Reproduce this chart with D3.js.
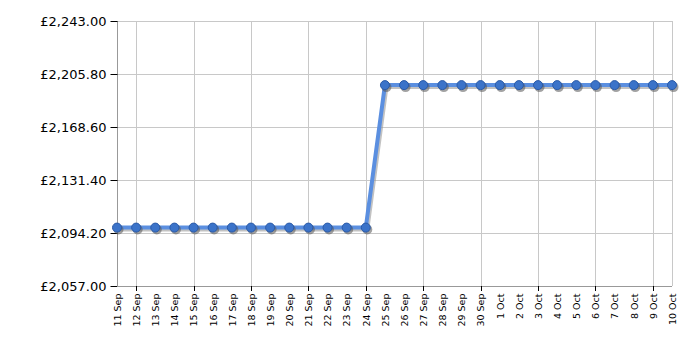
<!DOCTYPE html>
<html>
<head>
<meta charset="utf-8">
<script src="https://cdn.jsdelivr.net/npm/d3@7"></script>
<style>
  body { margin: 0; background: #fff; }
  svg text { font-family: "DejaVu Sans", Verdana, sans-serif; fill: #000; }
</style>
</head>
<body>
<svg id="chart" width="700" height="350"></svg>
<script>
// days shown on the x axis
var dates = ["11 Sep","12 Sep","13 Sep","14 Sep","15 Sep","16 Sep","17 Sep","18 Sep","19 Sep","20 Sep",
  "21 Sep","22 Sep","23 Sep","24 Sep","25 Sep","26 Sep","27 Sep","28 Sep","29 Sep","30 Sep",
  "1 Oct","2 Oct","3 Oct","4 Oct","5 Oct","6 Oct","7 Oct","8 Oct","9 Oct","10 Oct"];
// price per day
var prices = [2098,2098,2098,2098,2098,2098,2098,2098,2098,2098,
  2098,2098,2098,2098,2198,2198,2198,2198,2198,2198,
  2198,2198,2198,2198,2198,2198,2198,2198,2198,2198];
var yTicks = [2057, 2094.2, 2131.4, 2168.6, 2205.8, 2243];
// every third day gets a grid line, starting from 12 Sep
var gridDays = ["12 Sep","15 Sep","18 Sep","21 Sep","24 Sep","27 Sep","30 Sep","3 Oct","6 Oct","9 Oct"];

// note: "top" is taken by window.top, so use other names
var plotLeft = 117, plotRight = 672, plotTop = 21, plotBottom = 286;
var svg = d3.select("#chart");

var x = d3.scalePoint().domain(dates).range([plotLeft, plotRight]);
var y = d3.scaleLinear().domain([2057, 2243]).range([plotBottom, plotTop]);
var fmt = function(v){ return "£" + d3.format(",.2f")(v); };

// horizontal grid
svg.append("g").selectAll("line").data(yTicks).enter().append("line")
  .attr("x1", plotLeft).attr("x2", plotRight)
  .attr("y1", function(d){ return Math.round(y(d)) + 0.5; })
  .attr("y2", function(d){ return Math.round(y(d)) + 0.5; })
  .attr("stroke", "#c8c8c8");
// vertical grid
svg.append("g").selectAll("line").data(gridDays.concat(["10 Oct"])).enter().append("line")
  .attr("x1", function(d){ return Math.round(x(d)) + 0.5; })
  .attr("x2", function(d){ return Math.round(x(d)) + 0.5; })
  .attr("y1", plotTop).attr("y2", plotBottom)
  .attr("stroke", "#c8c8c8");

// y axis
var yAxis = svg.append("g")
  .attr("transform", "translate(" + (plotLeft + 0.5) + ",0)")
  .call(d3.axisLeft(y).tickValues(yTicks).tickFormat(fmt).tickSize(7).tickPadding(4));
yAxis.select(".domain").attr("stroke", "#999").attr("d", "M0," + plotTop + "V" + plotBottom);
yAxis.selectAll(".tick line").attr("stroke", "#000");
yAxis.selectAll("text").style("font-size", "13px");

// x axis
var xAxis = svg.append("g")
  .attr("transform", "translate(0," + (plotBottom + 0.5) + ")")
  .call(d3.axisBottom(x).tickSize(0).tickPadding(0));
xAxis.select(".domain").attr("stroke", "#999").attr("d", "M" + plotLeft + ",0H" + plotRight);
xAxis.selectAll(".tick text")
  .style("font-size", "9.5px")
  .attr("text-anchor", "end")
  .attr("dy", "0.35em")
  .attr("transform", "translate(0,7) rotate(-90)")
  .attr("x", 0).attr("y", 0);
// short tick marks on grid days only
svg.append("g").selectAll("line").data(gridDays).enter().append("line")
  .attr("x1", function(d){ return Math.round(x(d)) + 0.5; })
  .attr("x2", function(d){ return Math.round(x(d)) + 0.5; })
  .attr("y1", plotBottom).attr("y2", plotBottom + 5)
  .attr("stroke", "#000");

var line = d3.line()
  .x(function(d, i){ return x(dates[i]); })
  .y(function(d){ return y(d); });

// drop shadow under line and points
svg.append("path").datum(prices)
  .attr("d", line).attr("fill", "none")
  .attr("stroke", "#999").attr("stroke-opacity", 0.6).attr("stroke-width", 4)
  .attr("transform", "translate(1.5,2)");
svg.append("path").datum(prices)
  .attr("d", line).attr("fill", "none")
  .attr("stroke", "#5b8fe0").attr("stroke-width", 4);

svg.append("g").selectAll("circle").data(prices).enter().append("circle")
  .attr("cx", function(d, i){ return x(dates[i]) + 1.5; })
  .attr("cy", function(d){ return y(d) + 2; })
  .attr("r", 5).attr("fill", "#555").attr("fill-opacity", 0.55);
svg.append("g").selectAll("circle").data(prices).enter().append("circle")
  .attr("cx", function(d, i){ return x(dates[i]); })
  .attr("cy", function(d){ return y(d); })
  .attr("r", 4.5).attr("fill", "#3b73c9").attr("stroke", "#2a5aa8").attr("stroke-width", 1);
</script>
</body>
</html>
